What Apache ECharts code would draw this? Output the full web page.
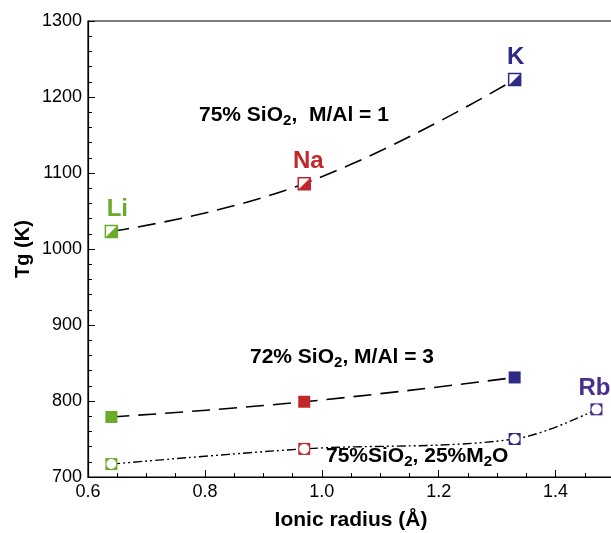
<!DOCTYPE html>
<html><head><meta charset="utf-8">
<script src="https://cdn.jsdelivr.net/npm/echarts@6/dist/echarts.min.js"></script>
<style>html,body{margin:0;padding:0;background:#fff}#c{width:611px;height:533px}</style>
</head><body><div id="c"></div>
<script>
const ions = ['Li', 'Na', 'K', 'Rb'];
const radius = [0.64, 0.97, 1.33, 1.47];
const ionColors = ['#6aab2a', '#c1272d', '#2e2b82', '#4a2f8e'];
const tgSeries1 = [1023, 1086, 1223];      // 75% SiO2, M/Al = 1
const tgSeries2 = [779, 799, 831];         // 72% SiO2, M/Al = 3
const tgSeries3 = [717, 737, 750, 789];    // 75%SiO2, 25%M2O
const xTicks = [0.6, 0.8, 1.0, 1.2, 1.4];
const yTicks = [700, 800, 900, 1000, 1100, 1200, 1300];

const FONT = 'Liberation Sans, Arial, Helvetica, sans-serif';
const pts = arr => arr.map((v, i) => [radius[i], v]);

const labelOffsets = [[6, 0], [4, 0], [1, 0], [-2, 0]];
function markerData(arr, opts) {
  return arr.map((v, i) => {
    const d = { value: [radius[i], v], itemStyle: Object.assign({ opacity: 1 }, opts.style(ionColors[i])) };
    if (opts.label && opts.label.includes(i)) {
      d.label = {
        show: true, position: 'top', distance: 4, offset: labelOffsets[i],
        formatter: ions[i], color: ionColors[i], fontSize: 24, fontWeight: 'bold', fontFamily: FONT
      };
    }
    return d;
  });
}

const lineBase = { type: 'line', smooth: 0.45, showSymbol: false, silent: true, z: 2 };
const scat = { type: 'scatter', silent: true, z: 5 };
const rich = {
  a: { fontSize: 21, fontWeight: 'bold', fontFamily: FONT, fill: '#000' },
  s: { fontSize: 15, fontWeight: 'bold', fontFamily: FONT, fill: '#000', padding: [11, 0, 0, 0] }
};

const chart = echarts.init(document.getElementById('c'), null, { renderer: 'canvas' });
chart.setOption({
  animation: false,
  backgroundColor: '#fff',
  grid: { left: 88, top: 21, width: 526, height: 456, containLabel: false, outerBoundsMode: 'none',
    show: true, borderColor: '#000', borderWidth: 1.2, backgroundColor: 'transparent' },
  xAxis: {
    type: 'value', min: 0.6, max: 1.5, interval: 0.2,
    name: 'Ionic radius (Å)', nameLocation: 'middle', nameGap: 33, nameMoveOverlap: false,
    nameTextStyle: { fontSize: 21, fontWeight: 'bold', fontFamily: FONT, color: '#000' },
    axisLine: { lineStyle: { color: '#000', width: 1.2 } },
    axisTick: { inside: true, length: 7, lineStyle: { color: '#000' } },
    minorTick: { show: true, splitNumber: 4, length: 4, lineStyle: { color: '#000' } },
    splitLine: { show: false },
    axisLabel: {
      fontSize: 18, fontFamily: FONT, color: '#000', margin: 6, showMaxLabel: false,
      formatter: v => { const t = xTicks.find(x => Math.abs(x - v) < 1e-6); return t === undefined ? '' : t.toFixed(1); }
    }
  },
  yAxis: {
    type: 'value', min: 700, max: 1300, interval: 100,
    name: 'Tg (K)', nameLocation: 'middle', nameGap: 55, nameMoveOverlap: false,
    nameTextStyle: { fontSize: 20, fontWeight: 'bold', fontFamily: FONT, color: '#000' },
    axisLine: { lineStyle: { color: '#000', width: 1.2 } },
    axisTick: { inside: true, length: 7, lineStyle: { color: '#000' } },
    minorTick: { show: true, splitNumber: 5, length: 4, lineStyle: { color: '#000' } },
    splitLine: { show: false },
    axisLabel: {
      fontSize: 18, fontFamily: FONT, color: '#000', margin: 6,
      formatter: v => yTicks.includes(Math.round(v)) ? String(Math.round(v)) : ''
    }
  },
  series: [
    Object.assign({}, lineBase, { data: pts(tgSeries1), lineStyle: { color: '#000', width: 1.6, type: [18, 9] } }),
    Object.assign({}, lineBase, { data: pts(tgSeries2), lineStyle: { color: '#000', width: 1.6, type: [18, 9] } }),
    Object.assign({}, lineBase, { smooth: 0.35, data: pts(tgSeries3), lineStyle: { color: '#000', width: 1.4, type: [9, 3, 2, 3, 2, 3] } }),
    // series 1: half-filled squares
    Object.assign({}, scat, { symbol: 'rect', symbolSize: 12,
      data: markerData(tgSeries1, { style: c => ({ color: '#fff', borderColor: c, borderWidth: 1.5 }) }) }),
    Object.assign({}, scat, { symbol: 'path://M1,0 L1,1 L0,1 Z', symbolSize: 12, z: 6,
      data: markerData(tgSeries1, { label: [0, 1, 2], style: c => ({ color: c }) }) }),
    // series 2: filled squares
    Object.assign({}, scat, { symbol: 'rect', symbolSize: 12,
      data: markerData(tgSeries2, { style: c => ({ color: c }) }) }),
    // series 3: square with white circle
    Object.assign({}, scat, { symbol: 'rect', symbolSize: 12,
      data: markerData(tgSeries3, { style: c => ({ color: c }) }) }),
    Object.assign({}, scat, { symbol: 'circle', symbolSize: 10, z: 6,
      data: markerData(tgSeries3, { label: [3], style: c => ({ color: '#fff' }) }) })
  ],
  graphic: [
    { type: 'text', left: 199, top: 105, z: 10, style: { text: '{a|75% SiO}{s|2}{a|,  M/Al = 1}', rich } },
    { type: 'text', left: 250, top: 347, z: 10, style: { text: '{a|72% SiO}{s|2}{a|, M/Al = 3}', rich } },
    { type: 'text', left: 326, top: 446, z: 10, style: { text: '{a|75%SiO}{s|2}{a|, 25%M}{s|2}{a|O}', rich } }
  ]
});
</script>
</body></html>
